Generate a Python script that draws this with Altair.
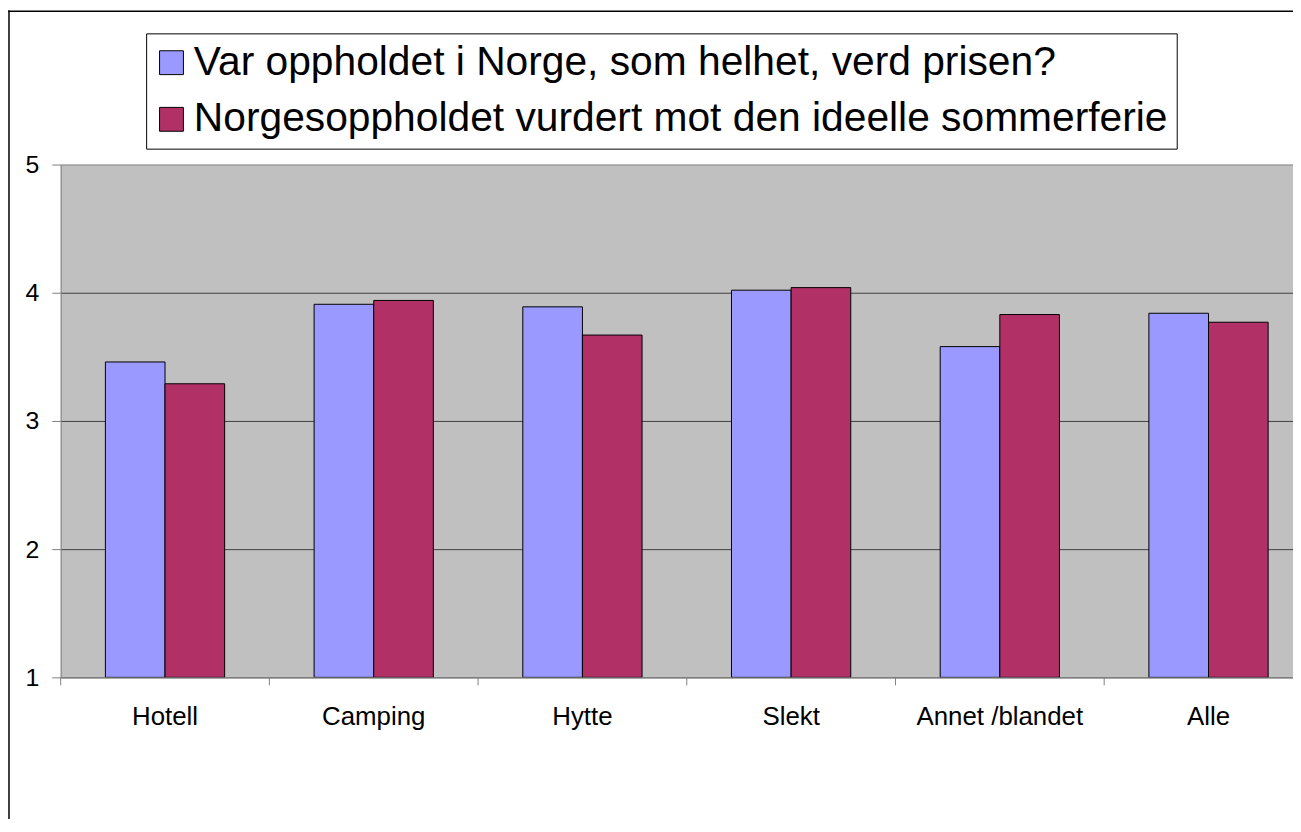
import altair as alt
import pandas as pd

# ---- data ----
categories = ["Hotell", "Camping", "Hytte", "Slekt", "Annet /blandet", "Alle"]
series_names = [
    "Var oppholdet i Norge, som helhet, verd prisen?",
    "Norgesoppholdet vurdert mot den ideelle sommerferie",
]
values_pris = [3.46, 3.91, 3.89, 4.02, 3.58, 3.84]
values_ideell = [3.29, 3.94, 3.67, 4.04, 3.83, 3.77]
y_ticks = [1, 2, 3, 4, 5]
colors = ["#9999FF", "#B13066"]

rows = []
for c, a, b in zip(categories, values_pris, values_ideell):
    rows.append({"kategori": c, "serie": series_names[0], "verdi": a})
    rows.append({"kategori": c, "serie": series_names[1], "verdi": b})
df = pd.DataFrame(rows)
cat_df = pd.DataFrame({"kategori": categories})
one_df = pd.DataFrame({"k": [0]})

W = 1240
H = 516
FONT = "Liberation Sans"

x_scale = alt.Scale(domain=categories, range=[0, 1260], paddingInner=0, paddingOuter=0)
y_scale = alt.Scale(domain=[1, 5], zero=False, nice=False)

bars = alt.Chart(df).mark_bar(stroke="black", strokeWidth=1, clip=True).encode(
    x=alt.X(
        "kategori:N",
        sort=categories,
        scale=x_scale,
        axis=alt.Axis(
            title=None, labelAngle=0, labelFontSize=26, labelFont=FONT,
            labelColor="black", ticks=False, labelPadding=26,
            domainColor="#808080", domainWidth=1,
        ),
    ),
    xOffset=alt.XOffset(
        "serie:N", sort=series_names,
        scale=alt.Scale(domain=series_names, paddingInner=0, paddingOuter=0.75),
    ),
    y=alt.Y(
        "verdi:Q",
        scale=y_scale,
        axis=alt.Axis(
            title=None, values=y_ticks, format="d", labelFontSize=25, labelFont=FONT,
            labelColor="black", tickSize=9, tickColor="#808080", domainColor="#808080",
            grid=True,
            gridColor={"condition": {"test": "datum.value === 5", "value": "#8c8c8c"},
                       "value": "#404040"},
            gridWidth=1, labelPadding=13,
        ),
    ),
    y2=alt.datum(1),
    color=alt.Color(
        "serie:N",
        scale=alt.Scale(domain=series_names, range=colors),
        legend=alt.Legend(
            title=None, orient="none", legendX=86, legendY=-132, direction="vertical",
            symbolType="square", symbolSize=576, symbolStrokeColor="black",
            symbolStrokeWidth=1, symbolOffset=-4, labelFontSize=41, labelFont=FONT,
            labelColor="black", labelLimit=2000, strokeColor="black", fillColor="white",
            padding=9, rowPadding=15, labelOffset=2,
        ),
    ),
)

ticks = alt.Chart(cat_df).mark_rule(color="#808080", strokeWidth=1).encode(
    x=alt.X("kategori:N", sort=categories, scale=x_scale, bandPosition=0),
    y=alt.value(H),
    y2=alt.value(H + 8),
)

frame_left = alt.Chart(one_df).mark_rule(color="black", strokeWidth=1.5).encode(
    x=alt.value(-52), y=alt.value(-155), y2=alt.value(H + 150)
)
frame_top = alt.Chart(one_df).mark_rule(color="black", strokeWidth=1.5).encode(
    x=alt.value(-53), x2=alt.value(W), y=alt.value(-154.3)
)

chart = (
    alt.layer(bars, ticks, frame_left, frame_top)
    .properties(
        width=W,
        height=H,
        autosize=alt.AutoSizeParams(type="none"),
        padding={"left": 53, "top": 155, "right": 0, "bottom": 140},
        background="white",
    )
    .configure_view(fill="#C0C0C0", stroke=None)
)

chart.save("out.html", embed_options={"renderer": "svg", "actions": False})
